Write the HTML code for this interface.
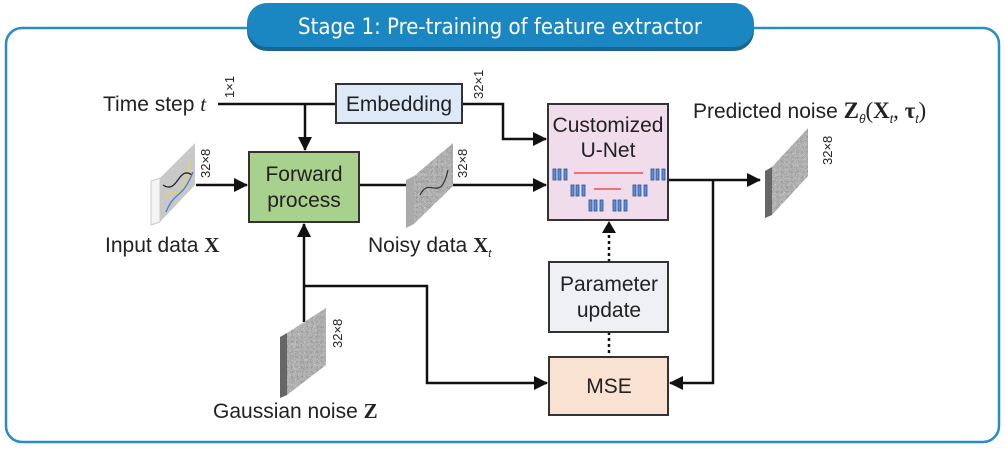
<!DOCTYPE html>
<html><head><meta charset="utf-8"><style>
body{margin:0;background:#fff;width:1005px;height:447px;overflow:hidden}
text{font-family:"Liberation Sans",sans-serif;fill:#222}
.s{font-family:"Liberation Serif",serif;font-weight:bold}
</style></head><body>
<svg width="1005" height="447" viewBox="0 0 1005 447">
<defs>
<marker id="b" markerWidth="14" markerHeight="14" refX="13" refY="7" orient="auto" markerUnits="userSpaceOnUse"><path d="M0,0L14,7L0,14z" fill="#111"/></marker>
<filter id="n" x="0" y="0" width="1" height="1"><feTurbulence baseFrequency="0.9" numOctaves="2" seed="3"/><feColorMatrix type="matrix" values="0.3 0.3 0.3 0 0.2 0.3 0.3 0.3 0 0.2 0.3 0.3 0.3 0 0.2 0 0 0 0 1"/></filter>
<clipPath id="c1"><polygon points="160,178 195,143 195,185 160,222"/></clipPath>
<clipPath id="c2"><polygon points="414,176 453,143 453,186 414,224"/></clipPath>
<clipPath id="c3"><polygon points="772,167 808,128 808,176 772,215"/></clipPath>
<clipPath id="c4"><polygon points="287,333 326,308 326,365 287,395"/></clipPath>
</defs>
<rect x="6" y="28" width="993" height="414" rx="16" fill="none" stroke="#2a8cc4" stroke-width="2.5"/>
<rect x="247" y="7" width="507" height="44" rx="20" fill="#1a6590"/>
<rect x="247" y="3" width="507" height="44" rx="20" fill="#1b87c2"/>
<text x="500" y="34" text-anchor="middle" font-size="22" style="fill:#fff;font-family:'DejaVu Sans Condensed','DejaVu Sans',sans-serif">Stage 1: Pre-training of feature extractor</text>

<g stroke="#111" stroke-width="2.5" fill="none">
<path d="M218,104H336"/>
<path d="M305,104V150" marker-end="url(#b)"/>
<path d="M462,104H503V139H546" marker-end="url(#b)"/>
<path d="M196,185H247" marker-end="url(#b)"/>
<path d="M359,185H406"/>
<path d="M453,185H546" marker-end="url(#b)"/>
<path d="M668,180H760" marker-end="url(#b)"/>
<path d="M713,180V383H670" marker-end="url(#b)"/>
<path d="M304,322V224" marker-end="url(#b)"/>
<path d="M304,286H427V383H547" marker-end="url(#b)"/>
</g>
<g stroke="#111" stroke-width="2.5" fill="none" stroke-dasharray="3,3">
<path d="M609,262V232"/><path d="M609,332V357"/>
</g>
<path d="M602,233L609,221L616,233z" fill="#111"/>

<rect x="336" y="84" width="126" height="39" fill="#dde9f7" stroke="#333" stroke-width="2"/>
<text x="399" y="111" text-anchor="middle" font-size="21">Embedding</text>
<rect x="249" y="152" width="110" height="70" fill="#a9d18e" stroke="#333" stroke-width="2"/>
<text x="304" y="181" text-anchor="middle" font-size="21">Forward</text>
<text x="304" y="207" text-anchor="middle" font-size="21">process</text>
<rect x="548" y="104" width="120" height="116" fill="#f0dcea" stroke="#333" stroke-width="2"/>
<text x="608" y="132" text-anchor="middle" font-size="21">Customized</text>
<text x="608" y="157" text-anchor="middle" font-size="21">U-Net</text>
<g fill="#5b8fd6" stroke="#2a4f90" stroke-width="0.8">
<rect x="553" y="169" width="3" height="11"/><rect x="558" y="169" width="3" height="11"/><rect x="564" y="169" width="3" height="11"/>
<rect x="571" y="185" width="3" height="11"/><rect x="576" y="185" width="3" height="11"/><rect x="582" y="185" width="3" height="11"/>
<rect x="589" y="200" width="3" height="11"/><rect x="594" y="200" width="3" height="11"/><rect x="600" y="200" width="3" height="11"/>
<rect x="613" y="200" width="3" height="11"/><rect x="618" y="200" width="3" height="11"/><rect x="624" y="200" width="3" height="11"/>
<rect x="633" y="185" width="3" height="11"/><rect x="638" y="185" width="3" height="11"/><rect x="644" y="185" width="3" height="11"/>
<rect x="651" y="169" width="3" height="11"/><rect x="656" y="169" width="3" height="11"/><rect x="662" y="169" width="3" height="11"/>
</g>
<path d="M574,173H643M594,189H621" stroke="#e33" stroke-width="1.2"/>
<rect x="549" y="262" width="119" height="70" fill="#eef0f3" stroke="#333" stroke-width="2"/>
<text x="609" y="291" text-anchor="middle" font-size="21">Parameter</text>
<text x="609" y="317" text-anchor="middle" font-size="21">update</text>
<rect x="549" y="357" width="119" height="58" fill="#f9e2d2" stroke="#333" stroke-width="2"/>
<text x="609" y="393" text-anchor="middle" font-size="21">MSE</text>

<!-- cubes -->
<polygon points="151,181 160,178 160,222 151,225" fill="#f4f4f4" stroke="#ccc"/>
<polygon points="160,178 195,143 195,185 160,222" fill="#c8c8c8"/>
<g clip-path="url(#c1)" fill="none" stroke-width="1.3">
<path d="M165,200 C175,175 180,220 190,160" stroke="#e8d25a"/>
<path d="M163,185 C178,195 178,165 192,175" stroke="#222"/>
<path d="M166,212 C175,190 182,200 193,172" stroke="#4a7fd0"/>
</g>
<polygon points="406,180 414,176 414,224 406,228" fill="#aaa"/>
<g clip-path="url(#c2)"><rect x="414" y="143" width="39" height="81" filter="url(#n)"/></g>
<path d="M420,195 C430,175 440,205 448,170" stroke="#333" fill="none" stroke-width="1.2"/>
<polygon points="765,171 772,167 772,215 765,218" fill="#666"/>
<g clip-path="url(#c3)"><rect x="772" y="128" width="36" height="87" filter="url(#n)"/></g>
<polygon points="280,337 287,333 287,395 280,398" fill="#666"/>
<g clip-path="url(#c4)"><rect x="287" y="308" width="39" height="87" filter="url(#n)"/></g>

<g font-size="13">
<text transform="translate(234,98) rotate(-90)">1×1</text>
<text transform="translate(483,99) rotate(-90)">32×1</text>
<text transform="translate(210,178) rotate(-90)">32×8</text>
<text transform="translate(467,178) rotate(-90)">32×8</text>
<text transform="translate(832,165) rotate(-90)">32×8</text>
<text transform="translate(342,348) rotate(-90)">32×8</text>
</g>
<text x="103" y="111" font-size="21">Time step <tspan font-family="Liberation Serif" font-style="italic">t</tspan></text>
<text x="105" y="252" font-size="21">Input data <tspan class="s">X</tspan></text>
<text x="368" y="252" font-size="21">Noisy data <tspan class="s">X</tspan><tspan font-size="11" font-style="italic" dy="5">t</tspan></text>
<text x="693" y="118" font-size="21">Predicted noise <tspan class="s" font-size="23">Z</tspan><tspan font-size="12" font-style="italic" dy="5">θ</tspan><tspan dy="-5" font-family="Liberation Serif" font-size="23">(</tspan><tspan class="s" font-size="23">X</tspan><tspan font-size="12" font-style="italic" dy="5">t</tspan><tspan dy="-5" font-family="Liberation Serif" font-size="23">, </tspan><tspan class="s" font-size="23">τ</tspan><tspan font-size="12" font-style="italic" dy="5">t</tspan><tspan dy="-5" font-family="Liberation Serif" font-size="23">)</tspan></text>
<text x="213" y="418" font-size="21">Gaussian noise <tspan class="s">Z</tspan></text>
</svg>
</body></html>
